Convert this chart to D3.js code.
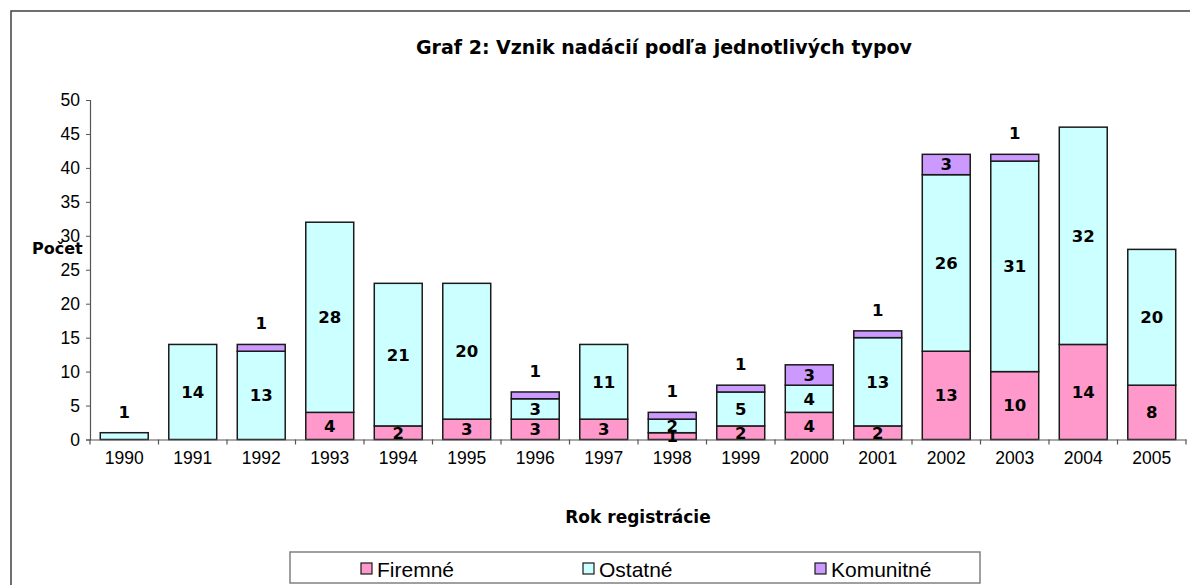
<!DOCTYPE html>
<html><head><meta charset="utf-8">
<script src="https://cdn.jsdelivr.net/npm/d3@7"></script>
<style>
html,body{margin:0;padding:0;background:#fff;}
svg{display:block;}
</style></head>
<body>
<svg id="c" width="1190" height="585"></svg>
<script>
const years = ["1990","1991","1992","1993","1994","1995","1996","1997","1998","1999","2000","2001","2002","2003","2004","2005"];
const firemne   = [0,0,0,4,2,3,3,3,1,2,4,2,13,10,14,8];
const ostatne   = [1,14,13,28,21,20,3,11,2,5,4,13,26,31,32,20];
const komunitne = [0,0,1,0,0,0,1,0,1,1,3,1,3,1,0,0];
const seriesNames = ["Firemné","Ostatné","Komunitné"];
const seriesColors = ["#FF99CC","#CCFFFF","#CC99FF"];
const yTicks = [0,5,10,15,20,25,30,35,40,45,50];
const titleText = "Graf 2: Vznik nadácií podľa jednotlivých typov";
const xTitle = "Rok registrácie";
const yTitle = "Počet";

const REG = "'Liberation Sans', Arial, sans-serif";
const BOLD = "'DejaVu Sans', Verdana, sans-serif";

const svg = d3.select("#c");
const pLeft = 90, pRight = 1186, pTop = 100, pBottom = 439.5;

// outer frame
svg.append("rect").attr("x",11).attr("y",11).attr("width",1200).attr("height",600)
  .attr("fill","none").attr("stroke","#404040").attr("stroke-width",1.5);

const x = d3.scaleBand().domain(years).range([pLeft,pRight]).paddingInner(0.3).paddingOuter(0.15);
const y = d3.scaleLinear().domain([0,50]).range([pBottom,pTop]);

const data = years.map((yr,i)=>({year:yr, "Firemné":firemne[i], "Ostatné":ostatne[i], "Komunitné":komunitne[i]}));
const stack = d3.stack().keys(seriesNames)(data);

// bars
stack.forEach((layer,li)=>{
  svg.append("g").selectAll("rect").data(layer.filter(d=>d[1]-d[0]>0)).join("rect")
    .attr("x",d=>x(d.data.year)).attr("width",x.bandwidth())
    .attr("y",d=>y(d[1])).attr("height",d=>y(d[0])-y(d[1]))
    .attr("fill",seriesColors[li]).attr("stroke","#1a1a1a").attr("stroke-width",1.5);
});

// axes
const yAxis = d3.axisLeft(y).tickValues(yTicks).tickSize(4).tickPadding(6);
const gy = svg.append("g").attr("transform",`translate(${pLeft},0)`).call(yAxis);
gy.select(".domain").attr("stroke","#555").attr("stroke-width",1.2);
gy.selectAll(".tick line").attr("stroke","#555");
gy.selectAll("text").attr("font-family",REG).attr("font-size",17.5).attr("fill","#000");

const xAxis = d3.axisBottom(x).tickSize(0).tickPadding(12);
const gx = svg.append("g").attr("transform",`translate(0,${pBottom})`).call(xAxis);
gx.select(".domain").attr("stroke","#555").attr("stroke-width",1.2);
gx.selectAll("text").attr("font-family",REG).attr("font-size",17.5).attr("fill","#000");
// category separator ticks
const sepStep = (pRight-pLeft)/years.length;
gx.selectAll(".sep").data(d3.range(years.length+1)).join("line").attr("class","sep")
  .attr("x1",i=>pLeft+i*sepStep).attr("x2",i=>pLeft+i*sepStep)
  .attr("y1",0).attr("y2",5).attr("stroke","#555").attr("stroke-width",1.2);

// value labels
stack.forEach((layer,li)=>{
  layer.forEach((d,i)=>{
    const v = d[1]-d[0];
    if(v<=0) return;
    const total = firemne[i]+ostatne[i]+komunitne[i];
    const isTop = d[1]===total;
    let cy;
    if(v===1 && isTop) cy = y(d[1]) - 21;
    else cy = (y(d[0])+y(d[1]))/2;
    svg.append("text").attr("x",x(d.data.year)+x.bandwidth()/2).attr("y",cy)
      .attr("dy","0.36em").attr("text-anchor","middle")
      .attr("font-family",BOLD).attr("font-weight","bold").attr("font-size",16.5)
      .text(v);
  });
});

// titles
svg.append("text").attr("x",664).attr("y",47).attr("dy","0.36em").attr("text-anchor","middle")
  .attr("font-family",BOLD).attr("font-weight","bold").attr("font-size",19).text(titleText);
svg.append("text").attr("x",(pLeft+pRight)/2).attr("y",517).attr("dy","0.36em").attr("text-anchor","middle")
  .attr("font-family",BOLD).attr("font-weight","bold").attr("font-size",17).text(xTitle);
svg.append("text").attr("x",32).attr("y",248).attr("dy","0.36em").attr("text-anchor","start")
  .attr("font-family",BOLD).attr("font-weight","bold").attr("font-size",16).text(yTitle);

// legend
svg.append("rect").attr("x",290).attr("y",552).attr("width",690).attr("height",31)
  .attr("fill","#fff").attr("stroke","#808080").attr("stroke-width",1.5);
const legX = [361,583,815];
seriesNames.forEach((n,i)=>{
  svg.append("rect").attr("x",legX[i]).attr("y",563).attr("width",11).attr("height",11)
    .attr("fill",seriesColors[i]).attr("stroke","#1a1a1a").attr("stroke-width",1.2);
  svg.append("text").attr("x",legX[i]+16).attr("y",569).attr("dy","0.36em")
    .attr("font-family",REG).attr("font-size",21).text(n);
});
</script>
</body></html>
